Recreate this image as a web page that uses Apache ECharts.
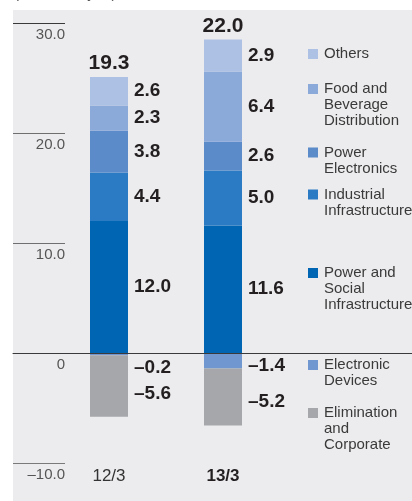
<!DOCTYPE html>
<html>
<head>
<meta charset="utf-8">
<script src="https://cdn.jsdelivr.net/npm/echarts@6/dist/echarts.min.js"></script>
<style>
  html, body { margin: 0; padding: 0; background: #fff; }
  #chart { width: 412px; height: 501px; }
</style>
</head>
<body>
<div id="chart"></div>
<script>
// Operating income by segment, fiscal years ended March 2012 and March 2013
const categories = ['12/3', '13/3'];
const powerSocial = [12.0, 11.6];
const industrial = [4.4, 5.0];
const powerElectronics = [3.8, 2.6];
const foodBeverage = [2.3, 6.4];
const others = [2.6, 2.9];
const electronicDevices = [-0.2, -1.4];
const elimination = [-5.6, -5.2];
const totals = [19.3, 22.0];
const yTicks = [-10, 0, 10, 20, 30];
const yTickLabels = ['–10.0', '0', '10.0', '20.0', '30.0'];
const unitText = '(Billions of yen)';

const FONT = "'Liberation Sans', Arial, Helvetica, sans-serif";
const TEXT_DARK = '#231f20';

function fmt(v) {
  return (v < 0 ? '–' : '') + Math.abs(v).toFixed(1);
}

// stacking order, bottom to top
const segments = [
  { name: 'Power and Social Infrastructure', legend: 'Power and\nSocial\nInfrastructure', data: powerSocial, color: '#0066b3', legendY: 273 },
  { name: 'Industrial Infrastructure', legend: 'Industrial\nInfrastructure', data: industrial, color: '#2b7bc4', legendY: 194.5 },
  { name: 'Power Electronics', legend: 'Power\nElectronics', data: powerElectronics, color: '#5b8bc9', legendY: 152.5 },
  { name: 'Food and Beverage Distribution', legend: 'Food and\nBeverage\nDistribution', data: foodBeverage, color: '#8ba9d9', legendY: 89 },
  { name: 'Others', legend: 'Others', data: others, color: '#adc1e4', legendY: 54 },
  { name: 'Electronic Devices', legend: 'Electronic\nDevices', data: electronicDevices, color: '#7097d0', legendY: 365 },
  { name: 'Elimination and Corporate', legend: 'Elimination\nand\nCorporate', data: elimination, color: '#a6a7aa', legendY: 413 }
];

// vertical nudges for the labels of the negative segments
const labelNudge = {
  'Electronic Devices': [14, 5],
  'Elimination and Corporate': [8, 5]
};

// top of the positive stack, where the net total is written
const positiveTop = categories.map((c, i) =>
  segments.reduce((s, seg) => s + (seg.data[i] > 0 ? seg.data[i] : 0), 0));

const series = segments.map(seg => {
  const nudge = labelNudge[seg.name];
  const s = {
    name: seg.name,
    type: 'bar',
    stack: 'total',
    xAxisIndex: 0,
    yAxisIndex: 0,
    barWidth: 38,
    itemStyle: { color: seg.color },
    label: {
      show: true,
      position: 'right',
      distance: 6,
      formatter: p => fmt(p.value),
      fontFamily: FONT,
      fontSize: 19,
      fontWeight: 'bold',
      color: TEXT_DARK
    },
    data: seg.data.map((v, i) => nudge ? { value: v, label: { offset: [0, nudge[i]] } } : v)
  };
  if (seg.name === 'Others') {
    s.markPoint = {
      symbol: 'rect',
      symbolSize: 0,
      label: {
        show: true,
        position: 'top',
        distance: 3,
        formatter: p => fmt(p.value),
        fontFamily: FONT,
        fontSize: 21,
        fontWeight: 'bold',
        color: TEXT_DARK
      },
      data: categories.map((c, i) => ({ coord: [i, positiveTop[i]], value: totals[i] }))
    };
  }
  return s;
});

const graphics = [
  { type: 'rect', z: -100, silent: true, shape: { x: 13, y: 10, width: 399, height: 491 }, style: { fill: '#ececee' } },
  { type: 'text', x: 14, y: 1, style: { text: unitText, font: '15px ' + FONT, fill: '#555', verticalAlign: 'bottom' } }
];
segments.forEach(seg => {
  graphics.push({ type: 'rect', shape: { x: 308, y: seg.legendY - 5, width: 10, height: 10 }, style: { fill: seg.color } });
  graphics.push({
    type: 'text', x: 324, y: seg.legendY - 8,
    style: { text: seg.legend, font: '15px ' + FONT, fill: '#3a3a3a', lineHeight: 16, verticalAlign: 'top' }
  });
});

const chart = echarts.init(document.getElementById('chart'), null, { renderer: 'canvas' });
chart.setOption({
  animation: false,
  backgroundColor: '#ffffff',
  textStyle: { fontFamily: FONT },
  graphic: graphics,
  grid: [
    { left: 52, width: 228, top: 23, height: 440 },
    { left: 13, width: 52, top: 23, height: 440 },
    { left: 13, right: 0, top: 23, height: 440 }
  ],
  xAxis: [
    {
      gridIndex: 0,
      type: 'category',
      data: categories,
      axisLine: { show: false },
      axisTick: { show: false },
      axisLabel: {
        margin: 5,
        fontFamily: FONT,
        fontSize: 17,
        color: '#333',
        formatter: (v, i) => i === categories.length - 1 ? '{b|' + v + '}' : v,
        rich: { b: { fontFamily: FONT, fontSize: 17, fontWeight: 'bold', color: TEXT_DARK } }
      }
    },
    { gridIndex: 1, type: 'value', show: false },
    {
      gridIndex: 2,
      type: 'value',
      min: 0,
      max: 1,
      z: 10,
      axisLine: { show: true, onZero: true, lineStyle: { color: '#3a3a3a', width: 1 } },
      axisTick: { show: false },
      axisLabel: { show: false },
      splitLine: { show: false }
    }
  ],
  yAxis: [
    { gridIndex: 0, type: 'value', min: -10, max: 30, interval: 10, show: false },
    {
      gridIndex: 1,
      type: 'value',
      min: -10,
      max: 30,
      interval: 10,
      position: 'right',
      axisLine: { show: false },
      axisTick: { show: false },
      splitLine: { show: true, lineStyle: { color: ['#7a7a7a', '#3a3a3a', '#6f6f6f', '#6f6f6f', '#3a3a3a'], width: 1 } },
      axisLabel: {
        inside: true,
        margin: 0,
        verticalAlign: 'top',
        padding: [4, 0, 0, 0],
        fontFamily: FONT,
        fontSize: 15,
        color: '#555',
        formatter: v => yTickLabels[yTicks.indexOf(v)]
      }
    },
    { gridIndex: 2, type: 'value', min: -10, max: 30, show: false }
  ],
  series: series
});
</script>
</body>
</html>
